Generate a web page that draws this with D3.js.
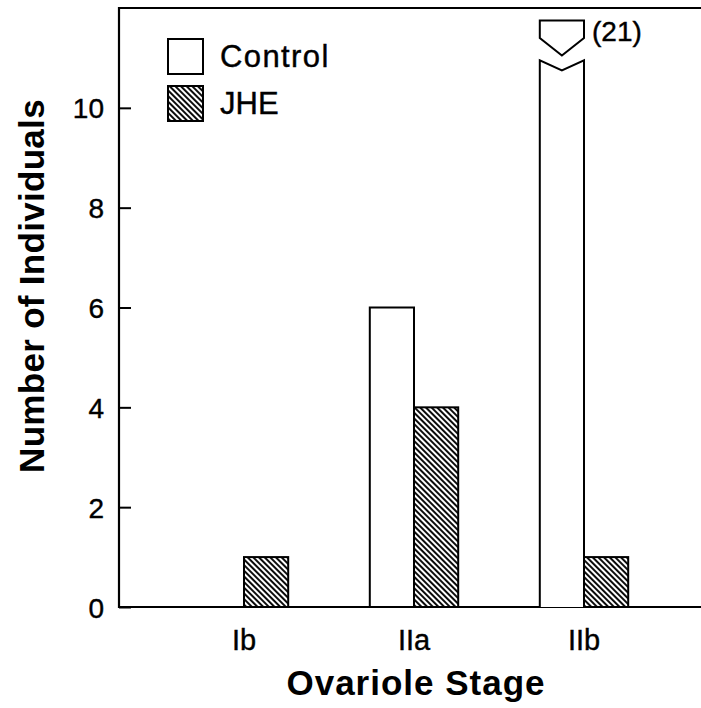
<!DOCTYPE html>
<html>
<head>
<meta charset="utf-8">
<script src="https://cdn.jsdelivr.net/npm/d3@7"></script>
<style>
  body { margin: 0; background: #fff; }
  text { font-family: "Liberation Sans", Arial, Helvetica, sans-serif; fill: #000; }
  .ink { stroke: #000; stroke-width: 0.4px; }
</style>
</head>
<body>
<svg id="chart" width="701" height="708"></svg>
<script>
// -- data -- //
const stages = ['Ib', 'IIa', 'IIb'];
const control = [0, 6, 21];
const jhe = [1, 4, 1];
const yTicks = [0, 2, 4, 6, 8, 10];
const seriesNames = ['Control', 'JHE'];

const svg = d3.select('#chart');
const plotLeft = 119, plotRight = 701, plotTop = 8, plotBottom = 607;

const yScale = d3.scaleLinear().domain([0, 12]).range([plotBottom, plotTop]);
const xScale = d3.scaleBand().domain(stages).range([159, 669])
    .paddingInner(0.48).paddingOuter(0.24);
const sub = d3.scaleBand().domain(seriesNames).range([0, xScale.bandwidth()]);

// hatch pattern for JHE
const defs = svg.append('defs');
defs.append('pattern')
    .attr('id', 'hatch')
    .attr('patternUnits', 'userSpaceOnUse')
    .attr('width', 4).attr('height', 4)
    .attr('patternTransform', 'rotate(-45)')
    .append('line')
    .attr('x1', 1).attr('y1', -1).attr('x2', 1).attr('y2', 5)
    .attr('stroke', '#000').attr('stroke-width', 1.9);

// -- axes -- //
const yAxis = d3.axisLeft(yScale).tickValues(yTicks)
    .tickSizeInner(-12).tickSizeOuter(0).tickPadding(15);
const gy = svg.append('g').attr('transform', `translate(${plotLeft},0)`).call(yAxis);
gy.select('.domain').remove();
gy.selectAll('line').attr('stroke', '#000').attr('stroke-width', 2);
gy.selectAll('text').attr('class', 'ink').style('font-size', '28px').attr('dy', '0.36em');

const xAxis = d3.axisBottom(xScale).tickSize(0);
const gx = svg.append('g').attr('transform', `translate(0,${plotBottom})`).call(xAxis);
gx.select('.domain').remove();
gx.selectAll('text').attr('class', 'ink').style('font-size', '29px').attr('dy', null).attr('y', 43);

// frame
svg.append('path')
    .attr('d', `M${plotRight},${plotTop}H${plotLeft}V${plotBottom}H${plotRight}`)
    .attr('fill', 'none').attr('stroke', '#000').attr('stroke-width', 2.2);

// -- bars -- //
const breakLow = 10.95, notch = 0.2;
const capTop = 11.75, capSide = 11.4, capPoint = 11.05;
const ymax = yScale.domain()[1];

stages.forEach((s, i) => {
    const gx0 = xScale(s);
    // control
    const x0 = gx0 + sub('Control'), x1 = x0 + sub.bandwidth(), xc = (x0 + x1) / 2;
    if (control[i] > ymax) {
        svg.append('path')
            .attr('d', `M${x0},${yScale(0)}V${yScale(breakLow)}L${xc},${yScale(breakLow - notch)}L${x1},${yScale(breakLow)}V${yScale(0)}`)
            .attr('fill', '#fff').attr('stroke', '#000').attr('stroke-width', 2);
        svg.append('path')
            .attr('d', `M${x0},${yScale(capTop)}H${x1}V${yScale(capSide)}L${xc},${yScale(capPoint)}L${x0},${yScale(capSide)}Z`)
            .attr('fill', '#fff').attr('stroke', '#000').attr('stroke-width', 2);
        svg.append('text')
            .attr('class', 'ink')
            .attr('x', x1 + 8).attr('y', yScale(capSide) + 3)
            .style('font-size', '28px')
            .text(`(${control[i]})`);
    } else if (control[i] > 0) {
        svg.append('rect')
            .attr('x', x0).attr('y', yScale(control[i]))
            .attr('width', sub.bandwidth()).attr('height', yScale(0) - yScale(control[i]))
            .attr('fill', '#fff').attr('stroke', '#000').attr('stroke-width', 2);
    }
    // jhe
    const j0 = gx0 + sub('JHE');
    svg.append('rect')
        .attr('x', j0).attr('y', yScale(jhe[i]))
        .attr('width', sub.bandwidth()).attr('height', yScale(0) - yScale(jhe[i]))
        .attr('fill', 'url(#hatch)').attr('stroke', '#000').attr('stroke-width', 2);
});

// -- legend -- //
const legend = svg.append('g').attr('transform', 'translate(168,39)');
seriesNames.forEach((n, i) => {
    const g = legend.append('g').attr('transform', `translate(0,${i * 47})`);
    g.append('rect').attr('width', 35).attr('height', 35)
        .attr('fill', i === 0 ? '#fff' : 'url(#hatch)')
        .attr('stroke', '#000').attr('stroke-width', 2);
    g.append('text').attr('class', 'ink').attr('x', 52).attr('y', 28)
        .style('font-size', '31px').style('letter-spacing', i === 0 ? '1.4px' : '0px')
        .text(n);
});

// -- titles -- //
svg.append('text')
    .attr('x', 416).attr('y', 695)
    .attr('text-anchor', 'middle')
    .style('font-size', '35px').style('font-weight', 'bold').style('letter-spacing', '1px')
    .text('Ovariole Stage');

svg.append('text')
    .attr('transform', 'translate(44,286) rotate(-90)')
    .attr('text-anchor', 'middle')
    .style('font-size', '35px').style('font-weight', 'bold').style('letter-spacing', '0.3px')
    .text('Number of Individuals');
</script>
</body>
</html>
